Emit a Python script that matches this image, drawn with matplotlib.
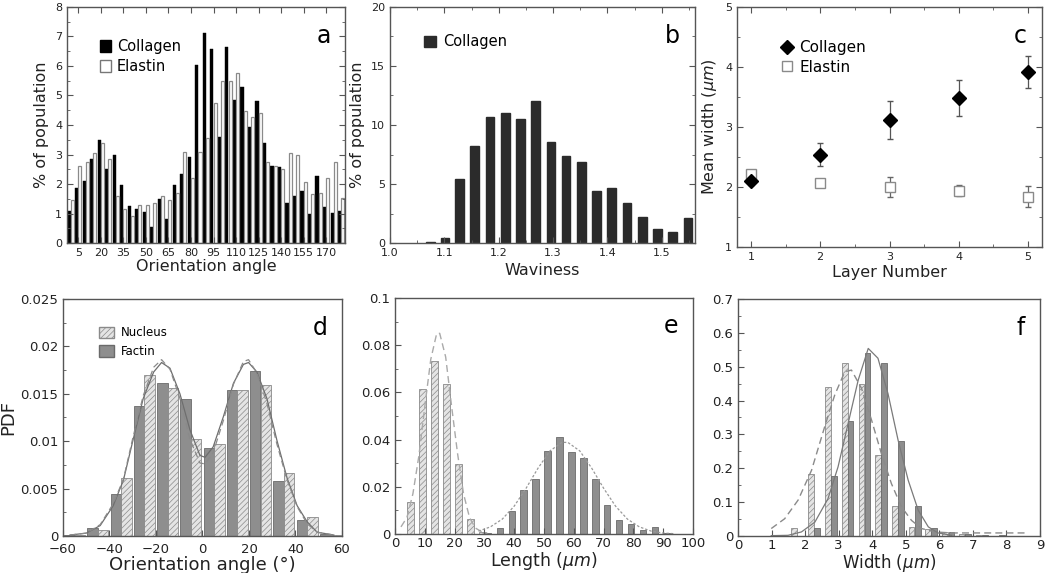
import numpy as np
import matplotlib
matplotlib.use("Agg")
import matplotlib.pyplot as plt
from matplotlib.patches import Patch
from matplotlib.lines import Line2D
from matplotlib.ticker import MultipleLocator, FuncFormatter

# ---- panel a: orientation histogram (5 deg bins) ----
angle_labels = ["5", "20", "35", "50", "65", "80", "95", "110", "125", "140", "155", "170"]
collagen_a = [1.1, 1.85, 2.1, 2.85, 3.5, 2.5, 3.0, 1.95, 1.25, 1.15, 1.05, 0.55, 1.5, 0.8,
              1.95, 2.35, 2.9, 6.05, 7.13, 6.56, 3.58, 6.63, 4.85, 5.28, 3.94, 4.8, 3.4,
              2.62, 2.56, 1.34, 1.59, 1.75, 0.97, 2.26, 1.23, 1.03, 1.07]
elastin_a = [1.45, 2.6, 2.75, 3.05, 3.4, 2.85, 1.6, 1.15, 0.9, 1.3, 1.3, 1.35, 1.6, 1.45,
             1.7, 3.1, 2.2, 3.1, 3.55, 4.73, 5.5, 5.5, 5.77, 4.49, 4.26, 4.42, 2.76,
             2.62, 2.5, 3.06, 2.97, 2.06, 1.66, 1.68, 2.19, 2.76, 1.51]

# ---- panel b: waviness ----
waviness = [1.074, 1.101, 1.128, 1.156, 1.184, 1.212, 1.240, 1.268, 1.296, 1.324,
            1.352, 1.380, 1.408, 1.436, 1.464, 1.492, 1.520, 1.548]
collagen_b = [0.08, 0.4, 5.4, 8.2, 10.7, 11.0, 10.5, 12.0, 8.55, 7.4, 6.85, 4.4, 4.65,
              3.35, 2.2, 1.2, 0.93, 2.1]

# ---- panel c: mean width per layer ----
layers = [1, 2, 3, 4, 5]
collagen_c = [2.10, 2.54, 3.12, 3.49, 3.92]
collagen_c_err = [0.07, 0.19, 0.32, 0.30, 0.27]
elastin_c = [2.21, 2.07, 2.00, 1.94, 1.84]
elastin_c_err = [0.05, 0.05, 0.16, 0.09, 0.18]

# ---- panel d: orientation PDF ----
d_groups = [-55, -45, -35, -25, -15, -5, 5, 15, 25, 35, 45, 55]
factin_d = [0.00015, 0.0008, 0.00447, 0.01373, 0.01609, 0.01444, 0.00933, 0.01539,
            0.01739, 0.00577, 0.00165, 0.00025]
nucleus_d = [0.00014, 0.00067, 0.00613, 0.01697, 0.01556, 0.01028, 0.00975, 0.01539,
             0.01592, 0.00665, 0.00201, 0.00014]
d_fit_x = [-57, -50, -44, -38.4, -34, -30, -25.5, -21, -17.6, -14, -9.7, -5.4, -1.1,
           1.1, 4.6, 9, 13.3, 17.6, 19.8, 23.4, 27.7, 32, 36.4, 40.7, 45, 49.3, 56.5]
d_fit_solid = [0.0001, 0.0003, 0.0011, 0.0032, 0.0059, 0.0100, 0.0145, 0.0173, 0.0183,
               0.0177, 0.0150, 0.0112, 0.0085, 0.0083, 0.0094, 0.0126, 0.0161, 0.0181,
               0.0183, 0.0173, 0.0145, 0.0101, 0.0061, 0.0032, 0.0015, 0.0004, 0.0001]
d_fit_dash = [0.0001, 0.0003, 0.0012, 0.0034, 0.0060, 0.0103, 0.0148, 0.0178, 0.0186,
              0.0176, 0.0145, 0.0102, 0.0077, 0.0076, 0.0088, 0.0122, 0.0160, 0.0184,
              0.0186, 0.0172, 0.0140, 0.0097, 0.0059, 0.0031, 0.0013, 0.0004, 0.0001]

# ---- panel e: length PDF ----
nucleus_e_x = [5.1, 9.2, 13.3, 17.2, 21.3, 25.4, 29.3]
nucleus_e = [0.0137, 0.0616, 0.0733, 0.0637, 0.0298, 0.0064, 0.001]
factin_e_x = [31.2, 35.2, 39.2, 43.2, 47.2, 51.2, 55.2, 59.2, 63.2, 67.2, 71.2, 75.2,
              79.2, 83.2, 87.2, 91.2]
factin_e = [0.0004, 0.0024, 0.0096, 0.0186, 0.0232, 0.0353, 0.041, 0.0347, 0.0323,
            0.0232, 0.0121, 0.0059, 0.0042, 0.0017, 0.003, 0.0004]
e_fit_nuc_x = [2, 4, 6, 8, 10, 12, 14, 15, 17, 19, 21, 23, 25, 27, 29, 31]
e_fit_nuc = [0.003, 0.007, 0.017, 0.033, 0.054, 0.074, 0.085, 0.085, 0.075, 0.054,
             0.034, 0.017, 0.007, 0.0025, 0.001, 0.0003]
e_fit_fac_x = [28, 32, 36, 40, 44, 48, 52, 56, 58, 62, 66, 70, 74, 78, 82, 86, 90, 94]
e_fit_fac = [0.0012, 0.003, 0.0063, 0.0118, 0.0194, 0.0279, 0.0352, 0.0388, 0.0388,
             0.0352, 0.0279, 0.0194, 0.0118, 0.0063, 0.003, 0.0012, 0.0004, 0.0001]

# ---- panel f: width PDF ----
nucleus_f_x = [1.67, 2.17, 2.68, 3.18, 3.68, 4.17, 4.67, 5.17, 5.67, 6.17, 6.67, 7.17]
nucleus_f = [0.025, 0.182, 0.44, 0.51, 0.45, 0.239, 0.089, 0.028, 0.021, 0.012, 0.006, 0.004]
factin_f_x = [1.2, 2.36, 2.85, 3.35, 3.86, 4.35, 4.85, 5.36, 5.85, 6.36, 6.86, 7.36, 7.86]
factin_f = [0.002, 0.024, 0.178, 0.34, 0.54, 0.51, 0.28, 0.088, 0.023, 0.011, 0.007,
            0.004, 0.002]
f_fit_fac_x = [0.99, 1.49, 1.89, 2.29, 2.68, 2.98, 3.28, 3.58, 3.88, 4.17, 4.47, 4.77,
               5.07, 5.37, 5.67, 5.96, 6.36]
f_fit_fac = [0.001, 0.002, 0.012, 0.041, 0.11, 0.204, 0.332, 0.46, 0.554, 0.525, 0.42,
             0.283, 0.165, 0.076, 0.027, 0.009, 0.002]
f_fit_nuc_x = [0.99, 1.39, 1.79, 2.19, 2.58, 2.88, 3.18, 3.38, 3.68, 3.98, 4.27, 4.57,
               4.87, 5.17, 5.47, 5.87, 6.36, 8.65]
f_fit_nuc = [0.022, 0.051, 0.106, 0.194, 0.322, 0.416, 0.485, 0.49, 0.436, 0.342, 0.244,
             0.155, 0.086, 0.046, 0.022, 0.012, 0.009, 0.009]

FRAME = "#555555"
TXT = "#222222"
FACTIN = "#8e8e8e"
NUCLEUS = "#e4e4e4"

plt.rcParams["hatch.color"] = "#9a9a9a"
plt.rcParams["hatch.linewidth"] = 0.5


def style_axes(ax, all_sides=True, tick_size=8):
    for sp in ax.spines.values():
        sp.set_color(FRAME)
        sp.set_linewidth(1.0)
    ax.tick_params(which="both", direction="in", colors=FRAME, labelcolor=TXT,
                   labelsize=tick_size, top=all_sides, right=all_sides)
    ax.tick_params(which="major", length=4)
    ax.tick_params(which="minor", length=2)


def panel_label(ax, s):
    ax.text(0.95, 0.93, s, transform=ax.transAxes, ha="right", va="top",
            fontsize=17, color="black")


fmt_g = FuncFormatter(lambda v, p: "%g" % v)

fig = plt.figure(figsize=(10.5, 5.73), dpi=100)

# panel a
ax = fig.add_axes([0.0638, 0.5759, 0.2648, 0.4119])
idx = np.arange(len(collagen_a))
ax.bar(idx - 0.22, collagen_a, width=0.42, color="black", edgecolor="black", lw=0.3)
ax.bar(idx + 0.2, elastin_a, width=0.4, color="white", edgecolor="#8a8a8a", lw=0.9)
ax.set_xlim(-0.5, len(collagen_a) - 0.5)
ax.set_ylim(0, 8)
ax.set_xticks(idx[1::3][:len(angle_labels)])
ax.set_xticklabels(angle_labels)
ax.yaxis.set_major_locator(MultipleLocator(1))
ax.yaxis.set_minor_locator(MultipleLocator(0.5))
style_axes(ax)
ax.set_xlabel("Orientation angle", fontsize=11.5, color=TXT, labelpad=1)
ax.set_ylabel("% of population", fontsize=11.5, color=TXT, labelpad=4)
ax.legend(handles=[Patch(facecolor="black", edgecolor="black", label="Collagen"),
                   Patch(facecolor="white", edgecolor="#777777", label="Elastin")],
          loc="upper left", bbox_to_anchor=(0.07, 0.92), frameon=False, fontsize=10.5,
          handlelength=0.8, handleheight=0.8, handletextpad=0.4, labelspacing=0.35)
panel_label(ax, "a")

# panel b
ax = fig.add_axes([0.3714, 0.5759, 0.2905, 0.4119])
ax.bar(waviness, collagen_b, width=0.016, color="#2b2b2b", edgecolor="#2b2b2b")
ax.set_xlim(1.0, 1.561)
ax.set_ylim(0, 20)
ax.xaxis.set_major_locator(MultipleLocator(0.1))
ax.xaxis.set_minor_locator(MultipleLocator(0.05))
ax.xaxis.set_major_formatter(FuncFormatter(lambda v, p: "%.1f" % v))
ax.yaxis.set_major_locator(MultipleLocator(5))
ax.yaxis.set_minor_locator(MultipleLocator(2.5))
style_axes(ax)
ax.set_xlabel("Waviness", fontsize=11.5, color=TXT, labelpad=4)
ax.set_ylabel("% of population", fontsize=11.5, color=TXT, labelpad=4)
ax.legend(handles=[Patch(facecolor="#2b2b2b", edgecolor="#2b2b2b", label="Collagen")],
          loc="upper left", bbox_to_anchor=(0.07, 0.94), frameon=False, fontsize=10.5,
          handlelength=0.8, handleheight=0.8, handletextpad=0.5)
panel_label(ax, "b")

# panel c
ax = fig.add_axes([0.7019, 0.5689, 0.2905, 0.4188])
ax.errorbar(layers, elastin_c, yerr=elastin_c_err, fmt="s", ms=7, mfc="white",
            mec="#8a8a8a", mew=1.0, ecolor="#666666", elinewidth=0.9, capsize=2.5)
ax.errorbar(layers, collagen_c, yerr=collagen_c_err, fmt="D", ms=7, mfc="black",
            mec="black", ecolor="#555555", elinewidth=0.9, capsize=2.5)
ax.set_xlim(0.8, 5.2)
ax.set_ylim(1, 5)
ax.xaxis.set_major_locator(MultipleLocator(1))
ax.xaxis.set_minor_locator(MultipleLocator(0.5))
ax.yaxis.set_major_locator(MultipleLocator(1))
ax.yaxis.set_minor_locator(MultipleLocator(0.5))
style_axes(ax)
ax.set_xlabel("Layer Number", fontsize=11.5, color=TXT, labelpad=2)
ax.set_ylabel(r"Mean width ($\mu m$)", fontsize=11.5, color=TXT, labelpad=4)
ax.legend(handles=[Line2D([], [], marker="D", ls="none", ms=7, mfc="black", mec="black",
                          label="Collagen"),
                   Line2D([], [], marker="s", ls="none", ms=7, mfc="white", mec="#8a8a8a",
                          label="Elastin")],
          loc="upper left", bbox_to_anchor=(0.1, 0.92), frameon=False, fontsize=11,
          handlelength=0.8, handletextpad=0.4, labelspacing=0.3)
panel_label(ax, "c")

# panel d
ax = fig.add_axes([0.06, 0.0646, 0.2657, 0.4136])
gx = np.array(d_groups, dtype=float)
ax.bar(gx - 2.3, factin_d, width=4.5, color=FACTIN, edgecolor="#6a6a6a", lw=0.6)
ax.bar(gx + 2.3, nucleus_d, width=4.5, color=NUCLEUS, edgecolor="#8a8a8a", lw=0.6,
       hatch="//////")
ax.plot(d_fit_x, d_fit_solid, color="#6e6e6e", lw=0.9)
ax.plot(d_fit_x, d_fit_dash, color="#8a8a8a", lw=0.9, ls=(0, (5, 3)))
ax.set_xlim(-60, 60)
ax.set_ylim(0, 0.025)
ax.xaxis.set_major_locator(MultipleLocator(20))
ax.yaxis.set_major_locator(MultipleLocator(0.005))
ax.yaxis.set_minor_locator(MultipleLocator(0.0025))
ax.yaxis.set_major_formatter(fmt_g)
style_axes(ax, all_sides=False, tick_size=9.5)
ax.tick_params(axis="x", pad=5)
ax.set_xlabel("Orientation angle (°)", fontsize=13, color=TXT, labelpad=0)
ax.set_ylabel("PDF", fontsize=13, color=TXT, labelpad=2)
ax.legend(handles=[Patch(facecolor=NUCLEUS, edgecolor="#8a8a8a", hatch="//////",
                         label="Nucleus"),
                   Patch(facecolor=FACTIN, edgecolor="#6a6a6a", label="Factin")],
          loc="upper left", bbox_to_anchor=(0.09, 0.93), frameon=False, fontsize=8.5,
          handlelength=1.3, handleheight=1.1, handletextpad=0.6, labelspacing=0.5)
panel_label(ax, "d")

# panel e
ax = fig.add_axes([0.3762, 0.0681, 0.2838, 0.4119])
ax.bar(nucleus_e_x, nucleus_e, width=2.3, color=NUCLEUS, edgecolor="#8a8a8a", lw=0.6,
       hatch="//////")
ax.bar(factin_e_x, factin_e, width=2.2, color=FACTIN, edgecolor="#6a6a6a", lw=0.6)
ax.plot(e_fit_nuc_x, e_fit_nuc, color="#aaaaaa", lw=1.0, ls=(0, (5, 3)))
ax.plot(e_fit_fac_x, e_fit_fac, color="#999999", lw=0.9, ls=(0, (2, 1.5)))
ax.set_xlim(0, 100)
ax.set_ylim(0, 0.1)
ax.xaxis.set_major_locator(MultipleLocator(10))
ax.yaxis.set_major_locator(MultipleLocator(0.02))
ax.yaxis.set_minor_locator(MultipleLocator(0.01))
ax.yaxis.set_major_formatter(fmt_g)
style_axes(ax, all_sides=False, tick_size=9.5)
ax.tick_params(axis="x", pad=2.5)
ax.set_xlabel(r"Length ($\mu m$)", fontsize=12.5, color=TXT, labelpad=0)
panel_label(ax, "e")

# panel f
ax = fig.add_axes([0.7029, 0.0646, 0.2876, 0.4136])
ax.bar(nucleus_f_x, nucleus_f, width=0.17, color=NUCLEUS, edgecolor="#8a8a8a", lw=0.6,
       hatch="//////")
ax.bar(factin_f_x, factin_f, width=0.17, color=FACTIN, edgecolor="#6a6a6a", lw=0.6)
ax.plot(f_fit_nuc_x, f_fit_nuc, color="#8a8a8a", lw=1.0, ls=(0, (5, 3)))
ax.plot(f_fit_fac_x, f_fit_fac, color="#7a7a7a", lw=0.9)
ax.set_xlim(0, 9)
ax.set_ylim(0, 0.7)
ax.xaxis.set_major_locator(MultipleLocator(1))
ax.yaxis.set_major_locator(MultipleLocator(0.1))
ax.yaxis.set_minor_locator(MultipleLocator(0.05))
ax.yaxis.set_major_formatter(fmt_g)
style_axes(ax, all_sides=False, tick_size=9.5)
ax.tick_params(axis="x", pad=2.5)
ax.set_xlabel(r"Width ($\mu m$)", fontsize=12, color=TXT, labelpad=0)
panel_label(ax, "f")

fig.savefig("out.png", dpi=100, facecolor="white")
